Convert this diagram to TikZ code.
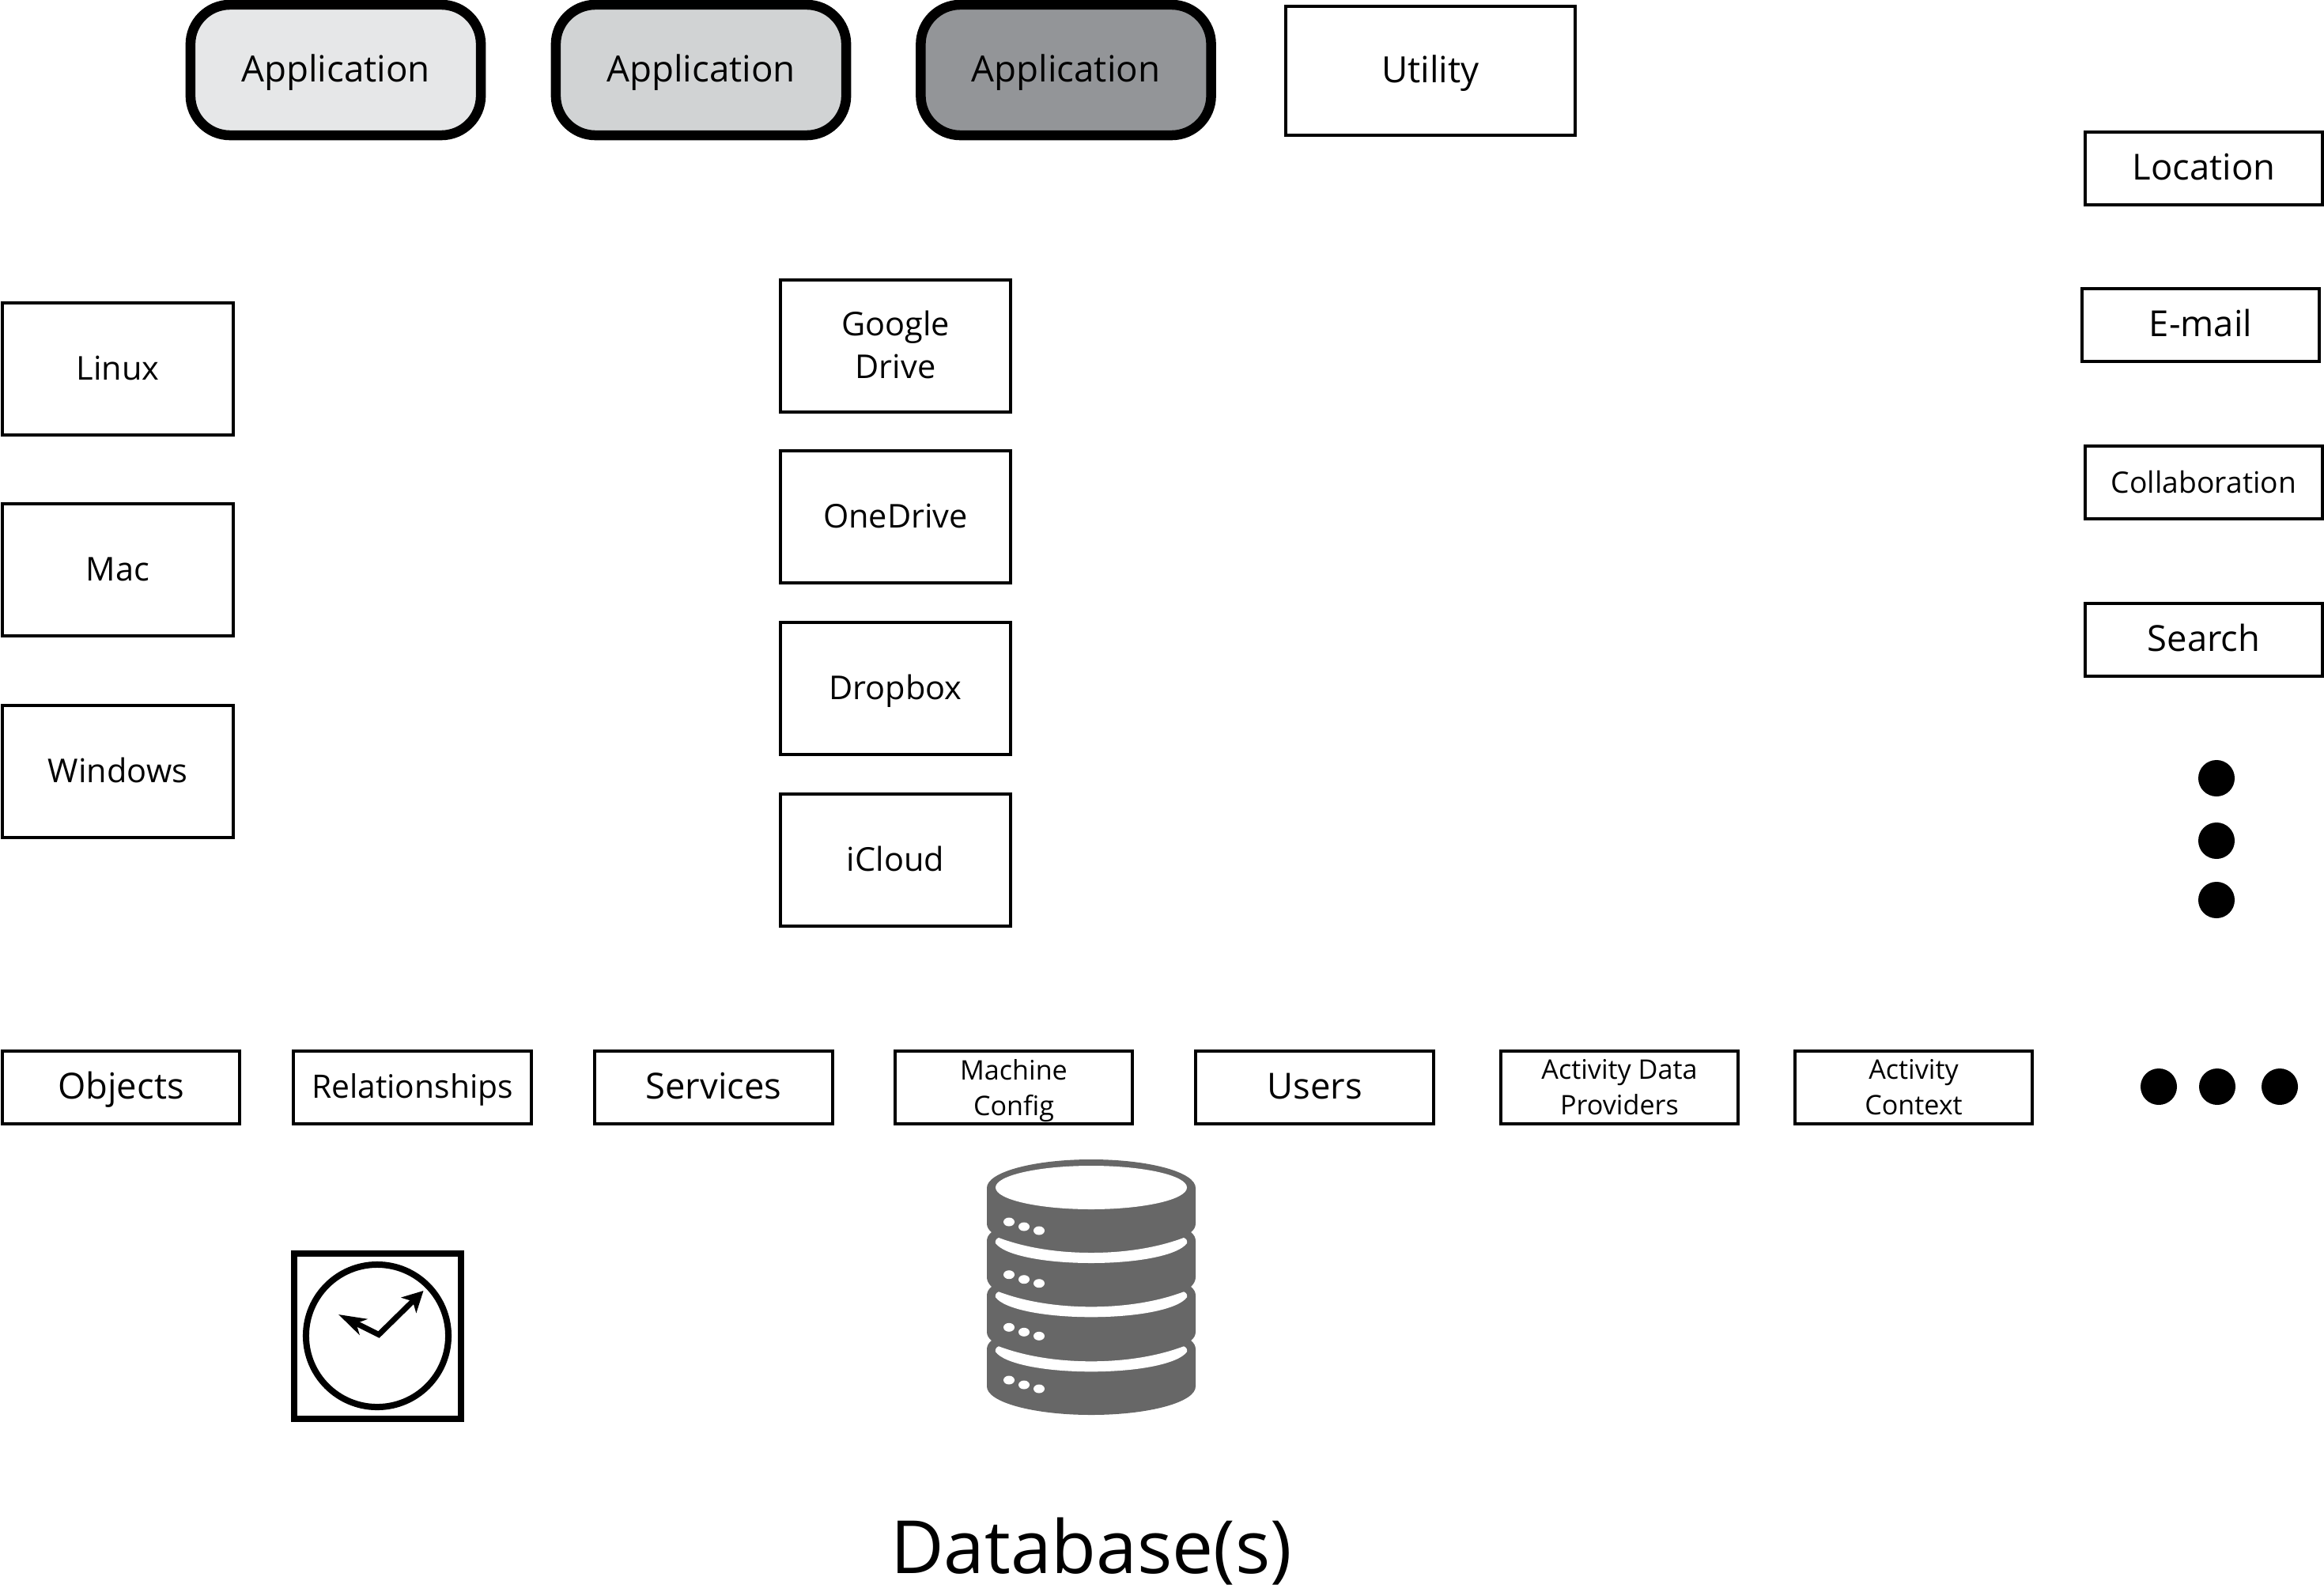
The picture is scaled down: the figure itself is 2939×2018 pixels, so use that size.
\documentclass[tikz,border=0pt]{standalone}
\usepackage{fontspec}
\setmainfont{Open Sans}
\usetikzlibrary{arrows.meta}
\definecolor{applight}{HTML}{E6E7E8}
\definecolor{appmid}{HTML}{D1D3D4}
\definecolor{appdark}{HTML}{939598}
\definecolor{dbgray}{HTML}{676767}
\tikzset{
  oneline/.style={text height=.39cm,text depth=.1cm},
  tallline/.style={text height=.37cm,text depth=.1cm},
  appbox/.style={draw,oneline,inner sep=0pt,rounded corners=.5cm,line width=.125cm,minimum width=3.67cm,minimum height=1.65cm,font=\fontsize{13}{15.5}\selectfont},
  tallbox/.style={draw,inner sep=0pt,line width=.04cm,minimum width=2.91cm,minimum height=1.66cm,align=center,font=\fontsize{11.8}{15.5}\selectfont},
  flatbox/.style={draw,inner sep=0pt,line width=.04cm,minimum width=3cm,minimum height=.91cm,align=center,font=\fontsize{12.9}{15.5}\selectfont},
  midtext/.style={font=\fontsize{11.6}{15.5}\selectfont},
  smalltext/.style={font=\fontsize{9.7}{12.8}\selectfont},
  blackdot/.style={circle,fill=black,inner sep=0pt,minimum size=.46cm},
}
\begin{document}
\begin{tikzpicture}[x=.01cm,y=-.01cm,line width=.04cm]
\useasboundingbox (0,0) rectangle (2939,2018);
\node[appbox,fill=applight] (appone) at (424.5,88.5) {Application};
\node[appbox,fill=appmid] (apptwo) at (886.5,88.5) {Application};
\node[appbox,fill=appdark] (appthree) at (1348,88.5) {Application};
\node[draw,oneline,inner sep=0pt,line width=.04cm,minimum width=3.66cm,minimum height=1.63cm,font=\fontsize{13}{15.5}\selectfont] (utility) at (1809,89.5) {Utility};
\node[tallbox,tallline] (linux) at (149,466.5) {Linux};
\node[tallbox,tallline] (mac) at (149,720.5) {Mac};
\node[tallbox,tallline] (windows) at (149,975.5) {Windows};
\node[tallbox] (google) at (1132.5,437.5) {Google\\Drive\rule[-.04cm]{0pt}{.1cm}};
\node[tallbox,tallline] (onedrive) at (1132.5,653.5) {OneDrive};
\node[tallbox,tallline] (dropbox) at (1132.5,870.5) {Dropbox};
\node[tallbox,tallline] (icloud) at (1132.5,1087.5) {iCloud};
\node[flatbox,oneline] (location) at (2787,213) {Location};
\node[flatbox,oneline] (email) at (2783,411) {E-mail};
\node[flatbox,tallline,font=\fontsize{10.6}{14}\selectfont] (collab) at (2787,610) {Collaboration};
\node[flatbox,oneline] (search) at (2787,809) {Search};
\node[blackdot] (dotone) at (2803,984) {};
\node[blackdot] (dottwo) at (2803,1063) {};
\node[blackdot] (dotthree) at (2803,1138) {};
\node[flatbox,oneline] (objects) at (153,1375) {Objects};
\node[flatbox,tallline,midtext] (relations) at (521.5,1375) {Relationships};
\node[flatbox,oneline] (services) at (902.5,1375) {Services};
\node[flatbox,smalltext] (machine) at (1282,1375) {Machine\\\smash{Config}};
\node[flatbox,oneline] (users) at (1662.5,1375) {Users};
\node[flatbox,smalltext] (providers) at (2048,1375) {Activity Data\\Providers};
\node[flatbox,smalltext] (context) at (2420,1375) {Activity\\Context};
\node[blackdot] (dotfour) at (2730,1374) {};
\node[blackdot] (dotfive) at (2804,1374) {};
\node[blackdot] (dotsix) at (2883,1374) {};
% clock
\node[draw,line width=.08cm,minimum width=2.11cm,minimum height=2.09cm] (clockframe) at (477.5,1689.5) {};
\node[draw,circle,line width=.08cm,inner sep=0pt,minimum size=1.8cm] (clockface) at (477,1689) {};
\coordinate (elbow) at (479,1687.5);
\coordinate (hourtip) at (428,1662);
\coordinate (minutetip) at (535.5,1632);
\draw[line width=.07cm,line join=miter,{Stealth[length=.35cm,width=.22cm,inset=.1cm]}-{Stealth[length=.26cm,width=.27cm,inset=.07cm]}] (hourtip) -- (elbow) -- (minutetip);
% database
\fill[dbgray] (1248,1502) .. controls (1248,1482) and (1307,1466) .. (1380,1466) .. controls (1453,1466) and (1512,1482) .. (1512,1502)
  -- (1512,1547) .. controls (1512,1551) and (1510,1555) .. (1506,1558) .. controls (1510,1561) and (1512,1565) .. (1512,1569)
  -- (1512,1615) .. controls (1512,1619) and (1510,1623) .. (1506,1627) .. controls (1510,1630) and (1512,1634) .. (1512,1638)
  -- (1512,1684) .. controls (1512,1688) and (1510,1692) .. (1506,1695) .. controls (1510,1698) and (1512,1702) .. (1512,1706)
  -- (1512,1753) .. controls (1512,1773) and (1453,1789) .. (1380,1789) .. controls (1307,1789) and (1248,1773) .. (1248,1753)
  -- (1248,1706) .. controls (1248,1702) and (1250,1698) .. (1254,1695) .. controls (1250,1692) and (1248,1688) .. (1248,1684)
  -- (1248,1638) .. controls (1248,1634) and (1250,1630) .. (1254,1627) .. controls (1250,1623) and (1248,1619) .. (1248,1615)
  -- (1248,1569) .. controls (1248,1565) and (1250,1561) .. (1254,1558) .. controls (1250,1555) and (1248,1551) .. (1248,1547) -- cycle;
\fill[white] (1380,1501.5) ellipse [x radius=121,y radius=27.5];
\foreach \dy in {0,68.3,137.3}{
  \fill[white] (1263,1565+\dy) .. controls (1295,1577+\dy) and (1335,1584+\dy) .. (1380,1584+\dy) .. controls (1425,1584+\dy) and (1465,1577+\dy) .. (1497,1565+\dy)
    .. controls (1500,1566+\dy) and (1502,1569+\dy) .. (1501,1572+\dy) .. controls (1490,1587+\dy) and (1440,1597+\dy) .. (1380,1597+\dy)
    .. controls (1320,1597+\dy) and (1270,1587+\dy) .. (1259,1572+\dy) .. controls (1258,1569+\dy) and (1260,1566+\dy) .. (1263,1565+\dy) -- cycle;
}
\foreach \dy in {0,66.7,133.3,200}{
  \fill[white] (1276,1545+\dy) ellipse [x radius=7,y radius=5.5];
  \fill[white] (1295,1551+\dy) ellipse [x radius=7,y radius=5.5];
  \fill[white] (1314,1556+\dy) ellipse [x radius=7,y radius=5.5];
}
\node[font=\fontsize{26.4}{30}\selectfont] (dbtitle) at (1380,1962) {Database(s)};
\end{tikzpicture}
\end{document}
